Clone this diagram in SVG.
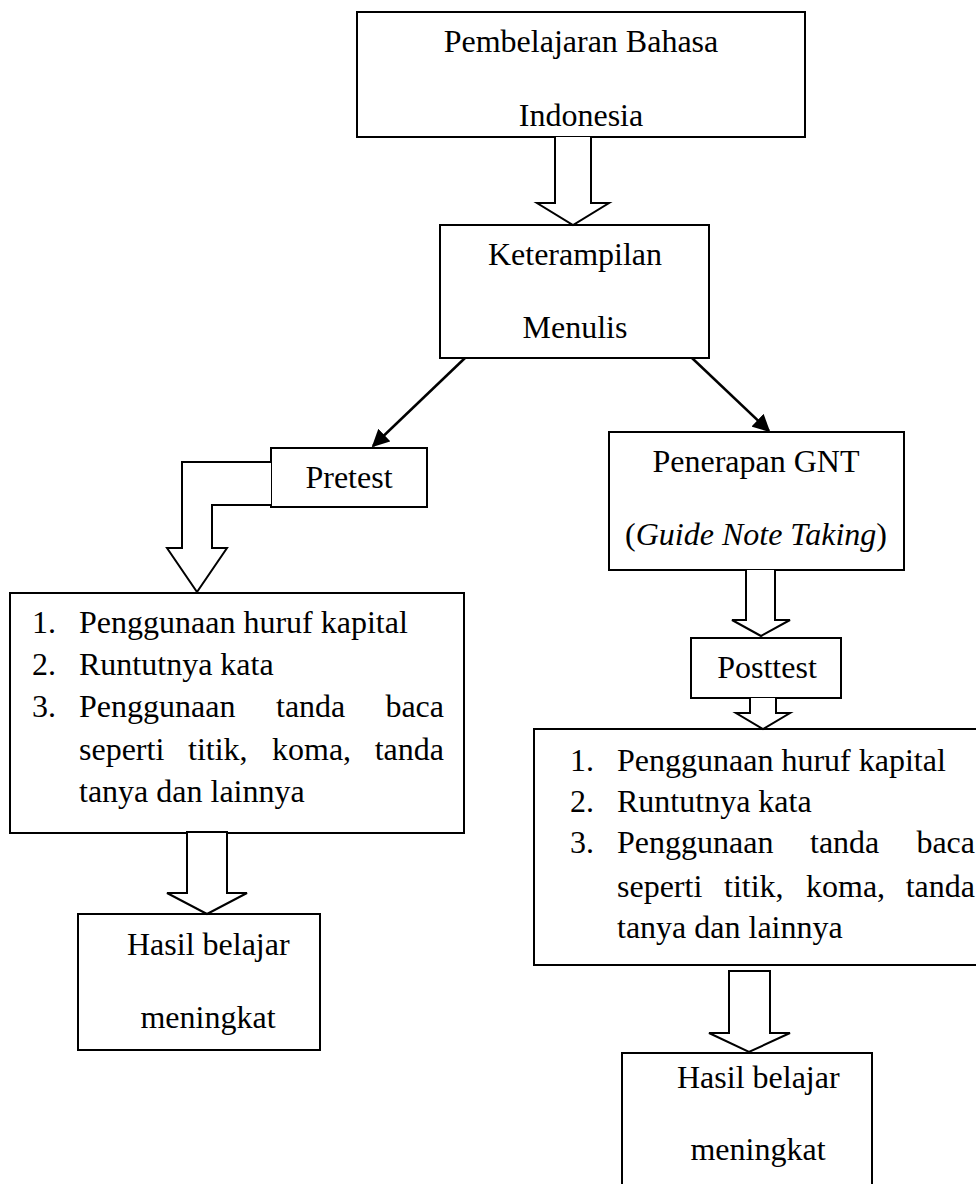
<svg xmlns="http://www.w3.org/2000/svg" width="976" height="1184" viewBox="0 0 976 1184">
<style>
.box{fill:#fff;stroke:#000;stroke-width:2}
.blk{fill:#fff;stroke:#000;stroke-width:2;stroke-linejoin:miter}
.ln{fill:none;stroke:#000;stroke-width:2.5}
text{font-family:"Liberation Serif","Times New Roman",serif;font-size:32px;fill:#000}
.c{text-anchor:middle}
.e{text-anchor:end}
</style>
<defs>
<marker id="ah" viewBox="0 0 10 10" refX="9" refY="5" markerWidth="7" markerHeight="7" markerUnits="strokeWidth" orient="auto">
<path d="M0,0 L10,5 L0,10 z" fill="#000"/>
</marker>
</defs>
<rect width="976" height="1184" fill="#fff"/>

<g id="n-top">
<rect class="box" x="357" y="12" width="448" height="125"/>
<text class="c" x="581" y="52">Pembelajaran Bahasa</text>
<text class="c" x="581" y="126">Indonesia</text>
</g>

<g id="n-ket">
<rect class="box" x="440" y="225" width="269" height="133"/>
<text class="c" x="575" y="265">Keterampilan</text>
<text class="c" x="575" y="338">Menulis</text>
</g>

<g id="n-pre">
<rect class="box" x="271" y="448" width="156" height="59"/>
<text class="c" x="349" y="488">Pretest</text>
</g>

<g id="n-gnt">
<rect class="box" x="609" y="432" width="295" height="138"/>
<text class="c" x="756" y="472">Penerapan GNT</text>
<text class="c" x="756" y="545">(<tspan font-style="italic">Guide Note Taking</tspan>)</text>
</g>

<g id="n-post">
<rect class="box" x="691" y="638" width="150" height="60"/>
<text class="c" x="767" y="678">Posttest</text>
</g>

<g id="n-listL">
<rect class="box" x="10" y="593" width="454" height="240"/>
<text x="32" y="633">1.</text><text x="79" y="633">Penggunaan huruf kapital</text>
<text x="32" y="675">2.</text><text x="79" y="675">Runtutnya kata</text>
<text x="32" y="717">3.</text><text x="79" y="717">Penggunaan</text><text x="276" y="717">tanda</text><text class="e" x="444" y="717">baca</text>
<text x="79" y="760">seperti</text><text x="188" y="760">titik,</text><text x="272" y="760">koma,</text><text class="e" x="444" y="760">tanda</text>
<text x="79" y="802">tanya dan lainnya</text>
</g>

<g id="n-listR">
<rect class="box" x="534" y="729" width="450" height="236"/>
<text x="570" y="771">1.</text><text x="617" y="771">Penggunaan huruf kapital</text>
<text x="570" y="812">2.</text><text x="617" y="812">Runtutnya kata</text>
<text x="570" y="853">3.</text><text x="617" y="853">Penggunaan</text><text x="810" y="853">tanda</text><text class="e" x="975" y="853">baca</text>
<text x="617" y="897">seperti</text><text x="724" y="897">titik,</text><text x="806" y="897">koma,</text><text class="e" x="975" y="897">tanda</text>
<text x="617" y="938">tanya dan lainnya</text>
</g>

<g id="n-hasilL">
<rect class="box" x="78" y="914" width="242" height="136"/>
<text x="127" y="955">Hasil belajar</text>
<text class="c" x="208" y="1028">meningkat</text>
</g>

<g id="n-hasilR">
<rect class="box" x="622" y="1053" width="250" height="140"/>
<text x="677" y="1088">Hasil belajar</text>
<text class="c" x="758" y="1160">meningkat</text>
</g>

<g id="connectors">
<path class="blk" d="M555,137 L555,203 L537,203 L573,225 L609,203 L591,203 L591,137"/>
<line class="ln" x1="465" y1="358" x2="373" y2="446" marker-end="url(#ah)"/>
<line class="ln" x1="692" y1="358" x2="769" y2="431" marker-end="url(#ah)"/>
<path class="blk" d="M271,462 L182,462 L182,548 L167,548 L197,592 L227,548 L212,548 L212,505 L271,505"/>
<path class="blk" d="M746,570 L746,620 L732,620 L761,636 L790,620 L775,620 L775,570"/>
<path class="blk" d="M750,698 L750,713 L736,713 L763,729 L790,713 L776,713 L776,698"/>
<path class="blk" d="M187,832 L187,893 L167,893 L207,914 L247,893 L227,893 L227,832 Z"/>
<path class="blk" d="M729,971 L729,1033 L709,1033 L749,1052 L790,1033 L770,1033 L770,971 Z"/>
</g>
</svg>
